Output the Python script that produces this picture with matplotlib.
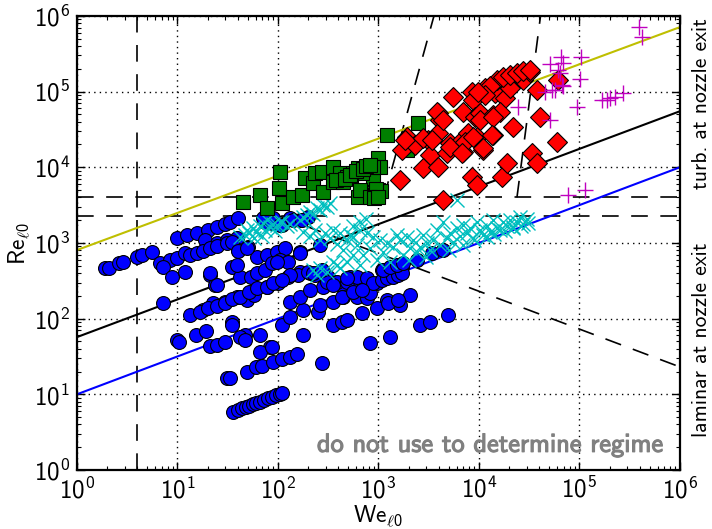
import numpy as np
import matplotlib.pyplot as plt
import matplotlib.patheffects as pe

plt.rcParams['font.family'] = ['cmss10', 'DejaVu Sans']
plt.rcParams['mathtext.fontset'] = 'custom'
plt.rcParams['mathtext.rm'] = 'cmss10'
plt.rcParams['mathtext.it'] = 'cmss10'
plt.rcParams['axes.formatter.use_mathtext'] = True

# laminar / transitional points (blue circles)
blue_we = [1.9, 2.1, 2.6, 2.9, 4.0, 4.4, 5.6,
           10, 12.4, 15.6, 20, 25, 30, 33, 40,
           74, 89, 109, 131, 165, 198, 71, 87, 104, 140, 173,
           18.7, 24.7, 31, 39, 40, 50, 62, 77, 97, 117, 165, 261,
           21, 23.5, 35, 42, 54, 62, 74, 87, 104, 125, 165, 207, 243, 313, 368, 441, 519, 556,
           17.9, 22.5, 29.6, 39, 49, 58, 77, 100, 125, 157, 198, 232, 280, 351, 441, 609, 767,
           821, 964, 1080, 1210, 1360, 1530, 1720, 2060, 1210, 1640,
           306, 385, 484, 609, 767, 879, 1080, 1210, 1390, 1560, 1720, 1100, 1300, 1530, 1760,
           2420, 3410, 4390,
           684, 821, 1300, 2590, 3260, 4920, 964, 1240, 1560,
           351, 432, 484, 177, 111, 131, 177, 249, 261, 351, 432, 556, 684, 131, 165, 207, 351,
           484, 165, 97, 131, 222, 273, 273,
           6.7, 8.4, 9.9, 11.9, 13.3, 15.6, 17.9, 21, 25, 31, 35, 40, 49, 7.2, 8.8, 11.9, 21,
           24.7, 39, 7.2, 10,
           13.3, 16.7, 20, 24.7, 29.6, 35, 42, 52, 62, 77, 89, 109,
           10.4, 15.3, 19.2, 21, 25, 30, 35, 35, 47, 66, 83, 66, 31, 33, 42, 47,
           49, 61, 69, 89, 111, 131, 154, 87,
           36, 40, 44, 48, 52, 56, 60, 66, 72, 80, 88, 96, 104, 110]
blue_re = [470, 470, 540, 560, 650, 690, 760,
           1160, 1270, 1350, 1480, 1620, 1780, 1890, 2140,
           1890, 2140, 1720, 2140, 2010, 2200, 2140, 1830, 1720, 2010, 2010,
           1090, 1000, 1090, 1160, 810, 880, 650, 690, 760, 860, 760, 940,
           380, 280, 480, 355, 355, 400, 440, 540, 595, 560, 410, 400, 400, 355, 305, 262, 355, 262,
           130, 160, 166, 193, 176, 205, 262, 296, 355, 377, 413, 377, 262, 296, 193, 193, 187,
           218, 296, 439, 413, 400, 413, 480, 205, 176, 151,
           305, 305, 305, 355, 344, 296, 324, 344, 355, 377, 400, 440, 480, 510, 540,
           595, 740, 810,
           119, 47, 57, 82, 90, 112, 138, 161, 176,
           82, 90, 96, 61, 82, 105, 130, 122, 151, 166, 193, 225, 239, 166, 193, 239, 278,
           344, 740, 560, 377, 400, 440, 26,
           540, 595, 630, 740, 690, 740, 780, 860, 910, 1000, 1030, 780, 860, 480, 355, 410, 400,
           280, 510, 160, 52,
           112, 122, 138, 147, 161, 181, 193, 225, 254, 262, 296, 324,
           49, 61, 69, 43, 45, 49, 90, 82, 61, 61, 42, 36, 16.4, 16.6, 57, 52,
           19.7, 23, 24, 27, 29, 31, 34, 42,
           5.9, 6.2, 6.5, 6.8, 7.1, 7.4, 7.7, 8.0, 8.4, 8.9, 9.3, 9.7, 10.2, 10.5]

# cyan crosses
cyan_we = [42, 47, 49, 52, 56, 61, 66, 71, 74, 77, 83, 89, 97, 104, 111, 122, 131, 58, 69, 93,
           165, 177, 194, 207, 222, 243, 261, 280, 306, 328,
           177, 207, 232, 261, 293, 328, 351, 385, 412, 441, 484, 519, 556, 609, 653, 699, 767,
           821, 879, 964, 1030, 1103, 1210, 1300, 1392, 1530, 1640, 1757, 1926, 2060, 2207,
           2418, 2590, 2774, 3040, 3260, 3490, 3830, 4100, 4390, 4810, 5150, 5520, 6050, 6490,
           6950, 7620, 8160, 8740, 9580, 10270, 11000, 12050, 12900, 13800, 15150, 16250,
           17400, 19060, 20400, 21850, 23950, 25700, 27500, 30100,
           9000, 14000, 18000, 22000, 26000, 31000, 5000, 7000, 12000, 3000, 2000,
           261, 306, 351, 385, 412, 484, 556, 653, 243, 222,
           6050, 650, 760, 560]
cyan_re = [1196, 1270, 1480, 1350, 1575, 1395, 1670, 1830, 1480, 2010, 1620, 1780, 1720, 1890,
           1890, 1670, 1780, 1160, 1233, 1440,
           2010, 2200, 2340, 2560, 2410, 2900, 2720, 3170, 2990, 3370,
           1395, 1233, 1480, 1090, 1350, 1160, 1480, 965, 1350, 807, 1090, 1270, 1196, 936, 1480,
           692, 1350, 858, 1196, 595, 1090, 760, 995, 560, 884, 1270, 1090, 692, 1196, 858, 1090,
           760, 884, 1270, 995, 807, 1090, 1480, 936, 1890, 1160, 1350, 1026, 1575, 1233,
           1720, 1350, 1575, 1160, 1890, 1480, 1270, 1670, 1395, 2010, 1575, 1480,
           1890, 1670, 2010, 1575, 1890, 2200, 1780, 2070,
           1100, 1300, 1450, 1600, 1700, 1850, 800, 950, 1200, 650, 600,
           466, 413, 560, 511, 466, 560, 692, 511, 377, 439,
           3690, 1900, 2100, 1700]

# green squares
green_we = [45, 66, 77, 102, 106, 109, 140, 173, 185, 222, 232, 273, 280, 351, 351, 412, 441,
            484, 556, 623, 653, 733, 767, 860, 879, 964, 987, 1030, 987, 1210, 2470, 879, 684,
            533, 821, 699, 623, 1930,
            380, 460, 520, 600, 700, 760, 820, 900, 1000, 1050, 950, 653, 821, 900, 1000]
green_re = [3470, 4300, 2900, 5300, 8650, 3370, 4040, 4300, 7200, 6190, 8390, 8650, 4700, 10000,
            6380, 8390, 6380, 7430, 8390, 9770, 8650, 9190, 4700, 4300, 7200, 4700, 13200, 10000,
            5000, 26600, 38400, 10000, 8400, 7400, 4600, 4300, 4000, 16900,
            6800, 7000, 8000, 9000, 9500, 10500, 10800, 4200, 4500, 4800, 5200, 5000, 4000, 3900,
            4100]

# red diamonds
red_we = [5520, 8540, 8740, 11500, 14500, 18200, 20400, 27500, 32300, 37900, 61500, 3900, 4100,
          6950, 9150, 10270, 13800, 16250, 21850, 40700, 1930, 1720, 2310, 3110, 3900, 5150,
          6800, 7800, 9580, 11000, 13800, 60100, 3260, 4810, 6950, 2770, 3900, 1640, 8540, 9580,
          17000, 19060, 33800, 37900, 4390,
          15150, 17400, 20400, 23950, 27500, 32300, 12900, 11500, 9800,
          3830, 4390, 10270, 13800, 1840, 2770, 3410, 5150, 7270, 8740, 11000, 13500, 6800]
red_re = [84700, 98600, 77300, 111400, 95600, 82200, 111400, 142000, 181600, 104800, 142000,
          52000, 42100, 53600, 46100, 52000, 49000, 53600, 34000, 46100, 25100, 16900, 19700,
          22900, 28300, 20900, 22900, 28300, 25100, 16900, 26650, 21550, 14500, 15400, 15900,
          9770, 10070, 6780, 7430, 5820, 7430, 11370, 15400, 11370, 3690,
          142000, 155600, 165800, 176000, 187200, 193000, 118300, 90000, 98600,
          53600, 42100, 42100, 46100, 22900, 24300, 22900, 18500, 21550, 25100, 18000, 26650,
          15400]

# magenta plus signs
mag_we = [394000, 423000, 51200, 65900, 69000, 61500, 64400, 104000, 102000, 67400, 53600,
          45700, 169000, 203000, 228000, 273000, 95000, 24500, 51200, 77300, 114000, 57400,
          69000, 189000]
mag_re = [712000, 527000, 231000, 286000, 240000, 193000, 176000, 286000, 146000, 122000,
          104800, 98600, 77300, 82200, 84700, 95600, 62400, 62400, 42100, 4300, 5000, 104800,
          118300, 77300]

# power-law lines (end points at We = 1 and We = 1e6)
line_we = [1, 1e6]
yellow_re = [805, 7.1e5]
black_re = [57, 5.5e4]
blue_line_re = [10, 1.0e4]

# dashed regime boundaries
we_crit = 4
re_turb = 4000
re_lam = 2300
diag_we = [100, 1e6]
diag_re = [2300, 23]
steep1_we = [1135, 3570]
steep2_we = [23900, 41000]
steep_re = [4000, 1e6]

fig = plt.figure(figsize=(7.12, 5.29), dpi=100)
ax = fig.add_axes([0.108, 0.1115, 0.847, 0.8585])
ax.set_xscale('log')
ax.set_yscale('log')

dash = dict(color='k', lw=1.2, dashes=(10, 7.5))
ax.axvline(we_crit, **dash)
ax.axhline(re_turb, **dash)
ax.axhline(re_lam, **dash)
ax.plot(diag_we, diag_re, **dash)
ax.plot(steep1_we, steep_re, **dash)
ax.plot(steep2_we, steep_re, **dash)

ax.plot(line_we, yellow_re, color='#bfbf00', lw=1.5)
ax.plot(line_we, black_re, color='k', lw=1.5)
ax.plot(line_we, blue_line_re, color='#0000ff', lw=1.5)

ax.plot(blue_we, blue_re, 'o', color='#0000ff', ms=10, mec='k', mew=0.8, zorder=3)
ax.plot(cyan_we, cyan_re, 'x', color='#00bfbf', ms=10, mew=1, zorder=3)
ax.plot(green_we, green_re, 's', color='#008000', ms=9.5, mec='k', mew=0.8, zorder=3)
ax.plot(red_we, red_re, 'D', color='#ff0000', ms=10, mec='k', mew=0.8, zorder=3)
ax.plot(mag_we, mag_re, '+', color='#bf00bf', ms=12, mew=1, zorder=3)

ax.set_xlim(1, 1e6)
ax.set_ylim(1, 1e6)
ax.grid(True, which='major', color='k', linestyle=(0, (1, 3)), linewidth=1)
ax.tick_params(which='both', direction='in', top=True, right=True, labelsize=18)
ax.tick_params(which='major', length=6, width=1, pad=5)
ax.tick_params(which='minor', length=3, width=0.8)
for sp in ax.spines.values():
    sp.set_linewidth(1.6)

ax.set_xlabel(r'We$_{\ell 0}$', fontsize=17, labelpad=0)
ax.set_ylabel(r'Re$_{\ell 0}$', fontsize=17, labelpad=1)

ax.text(0.972, 0.04, 'do not use to determine regime', transform=ax.transAxes,
        ha='right', va='baseline', color='0.5', fontsize=19,
        path_effects=[pe.withStroke(linewidth=0.8, foreground='0.5')])
ax.text(1.035, 0.806, 'turb. at nozzle exit', transform=ax.transAxes, rotation=90,
        ha='center', va='center', fontsize=15.5)
ax.text(1.035, 0.286, 'laminar at nozzle exit', transform=ax.transAxes, rotation=90,
        ha='center', va='center', fontsize=15.5)

fig.savefig('out.png', dpi=100)
